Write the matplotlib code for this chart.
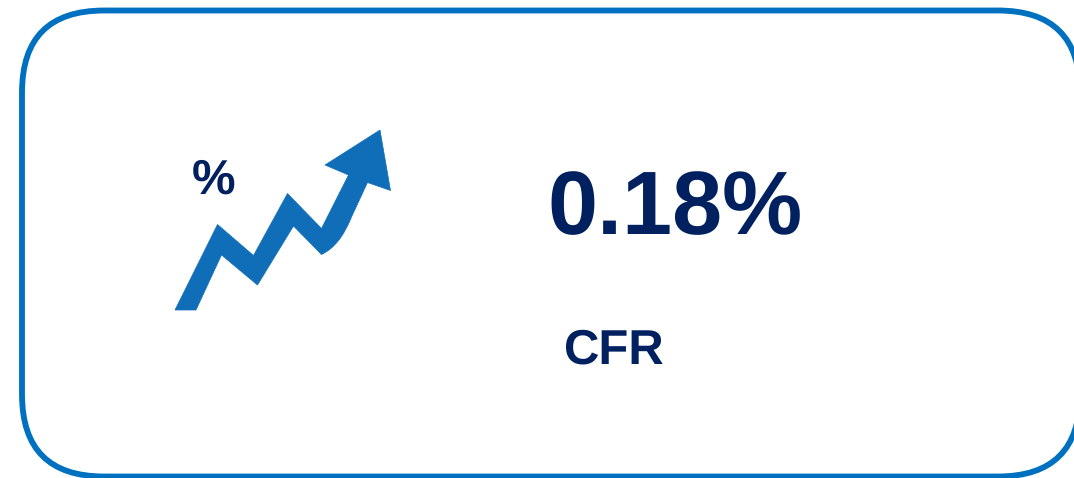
import matplotlib
matplotlib.use("Agg")
import matplotlib.pyplot as plt
from matplotlib.patches import FancyBboxPatch, PathPatch
from matplotlib.path import Path

# card texts
value_label = "0.18%"
metric_label = "CFR"
icon_label = "%"

BORDER = "#0070C0"
ARROW = "#106EB8"
NAVY = "#002060"

# icon outline in picture pixels
arrow_pts = [(175, 310), (196, 310), (221.5, 255), (257.5, 285), (293.5, 226),
             (321.5, 254.5), (340, 246), (351.5, 217), (367.5, 182.5), (390.5, 190.5),
             (380, 130), (325, 165), (348.5, 175), (321.5, 228.5), (287.5, 193.5),
             (253.5, 255.5), (217.5, 224.5), (175, 310)]
arrow_codes = [Path.MOVETO] + [Path.LINETO] * 5 + [Path.CURVE3, Path.CURVE3] + [Path.LINETO] * 9 + [Path.CLOSEPOLY]

plt.rcParams['font.family'] = ['Liberation Sans', 'DejaVu Sans']
plt.rcParams['text.hinting'] = 'no_hinting'
plt.rcParams['text.hinting_factor'] = 1

fig = plt.figure(figsize=(10.74, 4.78), dpi=100)
ax = fig.add_axes([0, 0, 1, 1])
ax.set_xlim(0, 1074)
ax.set_ylim(478, 0)
ax.axis('off')

# rounded border, runs off the right side
box = FancyBboxPatch((22, 10.5), 1058, 466, boxstyle="round,pad=0,rounding_size=82",
                     fc='white', ec=BORDER, lw=4.2)
ax.add_patch(box)

ax.add_patch(PathPatch(Path(arrow_pts, arrow_codes), fc=ARROW, ec=ARROW, lw=0.5))

ax.text(192, 194, icon_label, fontsize=35, fontweight='bold', color=NAVY, va='baseline', ha='left')
ax.text(547, 234, value_label, fontsize=64.5, fontweight='bold', color=NAVY, va='baseline', ha='left')
ax.text(564, 364, metric_label, fontsize=35, fontweight='bold', color=NAVY, va='baseline', ha='left')

fig.savefig("out.png", dpi=100)
